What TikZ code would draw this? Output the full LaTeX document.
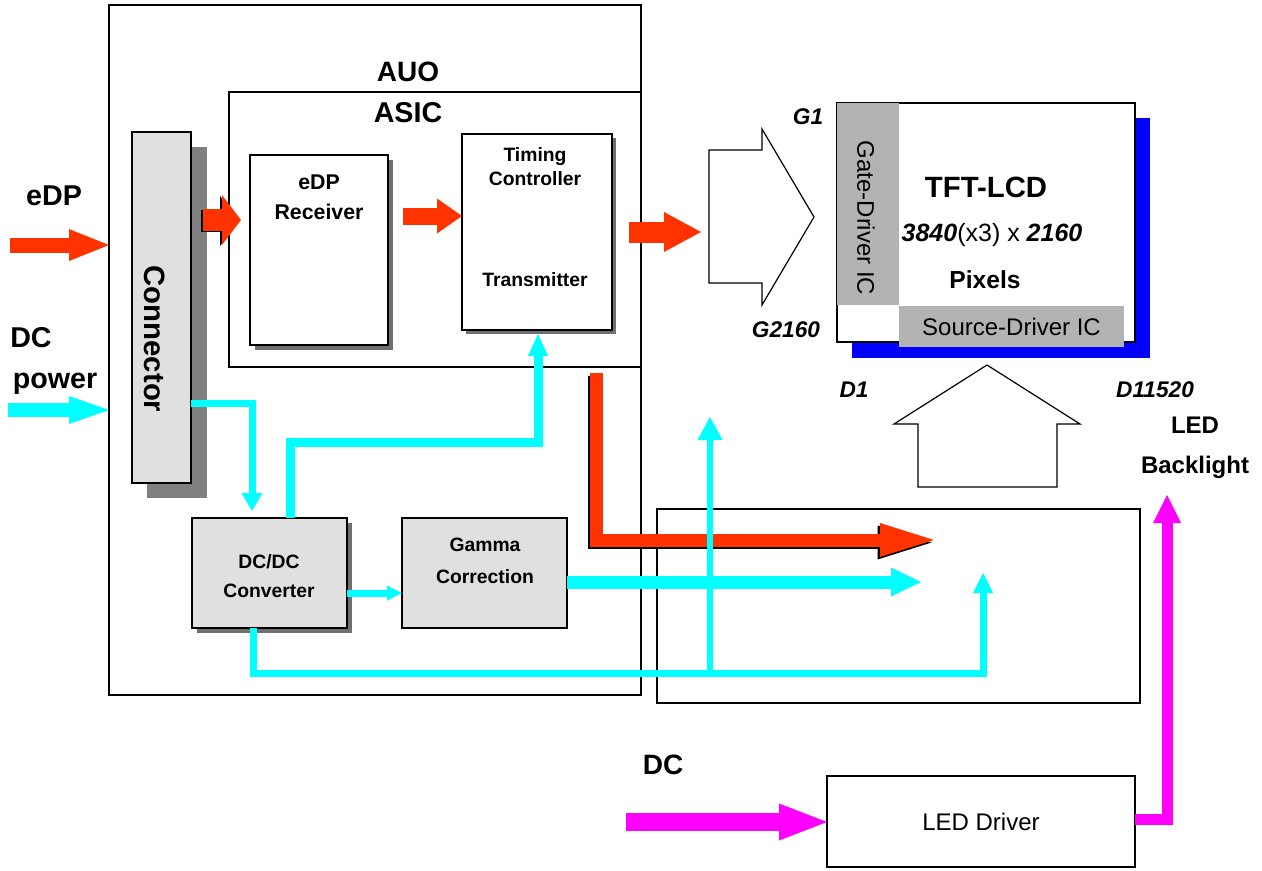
\documentclass[tikz,border=0pt]{standalone}
\usepackage{fontspec}
\setmainfont{Liberation Sans}
\usetikzlibrary{arrows.meta,fit,calc}
\definecolor{redA}{HTML}{FF3300}
\definecolor{cyanA}{HTML}{00FFFF}
\definecolor{magA}{HTML}{FF00FF}
\definecolor{blueA}{HTML}{0000FF}
\definecolor{boxgray}{HTML}{E0E0E0}
\definecolor{icgray}{HTML}{B3B3B3}
\definecolor{shadowgray}{HTML}{808080}
\definecolor{softshadow}{HTML}{707070}
\begin{document}
\begin{tikzpicture}[x=0.75pt,y=-0.75pt,
  frame/.style={draw=black, inner sep=0pt, outer sep=0pt},
  txtb/.style={inner sep=0pt, font=\fontsize{#1}{#1}\selectfont\bfseries},
  txtr/.style={inner sep=0pt, font=\fontsize{#1}{#1}\selectfont},
  txtbi/.style={inner sep=0pt, font=\fontsize{#1}{#1}\selectfont\bfseries\itshape},
  hollow/.style={draw=black, line width=0.9pt, fill=white, line join=miter},
]
\useasboundingbox (0,0) rectangle (1262,870);

% ---------- frames ----------
\node[frame, line width=1.1pt, fit={(109,5)(641,695)}] (auo) {};
\node[frame, line width=1.1pt, fit={(657,509)(1140,703)}] (board) {};
\node[frame, line width=1.8pt, fit={(229,92)(641,367)}] (asic) {};
\node[txtb=21pt] (auolbl) at (408,72) {AUO};
\node[txtb=21.5pt] (asiclbl) at (408,113) {ASIC};

% connector
\fill[shadowgray] (147,147) rectangle (207,498);
\node[frame, line width=1.4pt, fill=boxgray, fit={(132,132)(191,483)}] (conn) {};
\node[txtb=22pt, rotate=-90] (connlbl) at (155,339) {Connector};

% eDP receiver
\fill[softshadow] (255,160) rectangle (393,350);
\node[frame, line width=1.3pt, fill=white, fit={(250,155)(388,345)}] (rec) {};
\node[txtb=16pt] (reclbl1) at (319,182) {eDP};
\node[txtb=16pt] (reclbl2) at (319,212) {Receiver};

% timing controller
\fill[softshadow] (466,138) rectangle (616,334);
\node[frame, line width=1.3pt, fill=white, fit={(462,134)(612,330)}] (tx) {};
\node[txtb=14.5pt] (txlbl1) at (535,157) {Timing};
\node[txtb=14.5pt] (txlbl2) at (535,179) {Controller};
\node[txtb=14.5pt] (txlbl3) at (535,280) {Transmitter};

% DC/DC
\fill[softshadow] (197,523) rectangle (352,633);
\node[frame, line width=1.3pt, fill=boxgray, fit={(192,518)(347,628)}] (dcdc) {};
\node[txtb=14.5pt] (dclbl1) at (269,562) {DC/DC};
\node[txtb=14.5pt] (dclbl2) at (269,591) {Converter};

% Gamma
\node[frame, line width=1.3pt, fill=boxgray, fit={(402,518)(567,628)}] (gamma) {};
\node[txtb=14.5pt] (gmlbl1) at (485,545) {Gamma};
\node[txtb=14.5pt] (gmlbl2) at (485,577) {Correction};

% TFT panel
\fill[blueA] (852,118) rectangle (1150,358);
\node[frame, line width=1.8pt, fill=white, fit={(837,103)(1135,342)}] (tft) {};
\fill[icgray] (837,103) rectangle (899,305);
\node[fit={(899,306)(1124,347)}, inner sep=0pt, fill=icgray] (srcic) {};
\node[txtr=18pt, rotate=-90] (gatelbl) at (866,218) {Gate-Driver IC};
\node[txtr=18pt] (srclbl) at (srcic.center) {Source-Driver IC};
\node[txtb=22pt] (tftlbl) at (986,187) {TFT-LCD};
\node[txtr=18.75pt] (reslbl) at (992,235) {{\bfseries\itshape 3840}(x3) x {\bfseries\itshape 2160}};
\node[txtb=18.5pt] (pixlbl) at (985,280) {Pixels};
\node[txtbi=17pt] (g1) at (808,117) {G1};
\node[txtbi=17pt] (g2160) at (786,330) {G2160};
\node[txtbi=17pt] (d1) at (854,390) {D1};
\node[txtbi=17pt] (d11520) at (1155,390) {D11520};

% hollow arrows
\draw[hollow] (709,150) -- (762,150) -- (762,129) -- (814,217) -- (762,305) -- (762,283) -- (709,283) -- cycle;
\draw[hollow] (918,487) -- (918,424) -- (894,424) -- (987,365) -- (1080,424) -- (1057,424) -- (1057,487) -- cycle;

% LED backlight / driver
\node[txtb=18pt] (ledlbl1) at (1195,425) {LED};
\node[txtb=18pt] (ledlbl2) at (1195,467) {Backlight};
\node[frame, line width=1.2pt, fit={(827,776)(1135,867)}] (led) {};
\node[txtr=18pt] (ledlbl) at (led.center) {LED Driver};

% side labels
\node[txtb=21.5pt] (edplbl) at (54,196) {eDP};
\node[txtb=21.5pt] (dclbl) at (31,338) {DC};
\node[txtb=21.5pt] (pwrlbl) at (55,384) {power};
\node[txtb=21pt] (dc2lbl) at (663,765) {DC};

% ---------- red arrows ----------
\coordinate (edpsrc) at (10,245);
\draw[redA, line width=11.25pt, -{Triangle[length=30pt,width=24pt,line width=0pt]}] (edpsrc) -- (edpsrc -| auo.west);

\coordinate (ca1) at (203,220);
\coordinate (ca2) at (241,220);
\draw[black, line width=16.5pt, -{Triangle[length=14.25pt,width=37.5pt,line width=0pt]}] ([shift={(-2,1)}]ca1) -- ([shift={(-2,1)}]ca2);
\draw[redA, line width=16.5pt, -{Triangle[length=14.25pt,width=37.5pt,line width=0pt]}] (ca1) -- (ca2);

\coordinate (rt1) at (403,216);
\draw[redA, line width=12.75pt, -{Triangle[length=18.75pt,width=26.25pt,line width=0pt]}] (rt1) -- (rt1 -| tx.west);

\coordinate (tg1) at (629,232);
\coordinate (tg2) at (701,232);
\draw[redA, line width=15.75pt, -{Triangle[length=27.75pt,width=30pt,line width=0pt]}] (tg1) -- (tg2);

\coordinate (la) at (596.5,373);
\coordinate (lb) at (596.5,540);
\coordinate (lc) at (934,540);
\draw[black, line width=9.75pt, -{Triangle[length=40.5pt,width=25.5pt,line width=0pt]}] ([shift={(-2.5,2.5)}]la) -- ([shift={(-2.5,2.5)}]lb) -- ([shift={(-2.5,2.5)}]lc);
\draw[redA, line width=9.75pt, -{Triangle[length=40.5pt,width=25.5pt,line width=0pt]}] (la) -- (lb) -- (lc);

% ---------- cyan arrows ----------
\coordinate (dcsrc) at (8,410);
\draw[cyanA, line width=10.5pt, -{Triangle[length=30pt,width=21pt,line width=0pt]}] (dcsrc) -- (dcsrc -| auo.west);

\coordinate (c1) at (252,403);
\coordinate (c1e) at (252,511);
\draw[cyanA, line width=5.25pt, -{Triangle[length=13.5pt,width=15.75pt,line width=0pt]}] (conn.east |- c1) -- (c1) -- (c1e);

\coordinate (c2a) at (290,442);
\coordinate (c2b) at (538,442);
\coordinate (c2e) at (538,334);
\draw[cyanA, line width=6.75pt, -{Triangle[length=16.5pt,width=15pt,line width=0pt]}] (dcdc.north -| c2a) -- (c2a) -- (c2b) -- (c2e);

\coordinate (c3) at (347,593);
\draw[cyanA, line width=5.25pt, -{Triangle[length=11.25pt,width=11.25pt,line width=0pt]}] (c3) -- (c3 -| gamma.west);

\coordinate (c4a) at (567,582);
\coordinate (c4e) at (921,582);
\draw[cyanA, line width=9.75pt, -{Triangle[length=22.5pt,width=21.75pt,line width=0pt]}] (c4a) -- (c4e);

\coordinate (c5a) at (253,673);
\coordinate (c5b) at (983,673);
\coordinate (c5e) at (983,573);
\draw[cyanA, line width=5.25pt, -{Triangle[length=15pt,width=15pt,line width=0pt]}] (dcdc.south -| c5a) -- (c5a) -- (c5b) -- (c5e);

\coordinate (c6a) at (710,673);
\coordinate (c6e) at (710,417);
\draw[cyanA, line width=4.5pt, -{Triangle[length=17.25pt,width=18.75pt,line width=0pt]}] (c6a) -- (c6e);

% ---------- magenta arrows ----------
\coordinate (m1) at (626,822);
\draw[magA, line width=13.5pt, -{Triangle[length=36pt,width=27.75pt,line width=0pt]}] (m1) -- (m1 -| led.west);

\coordinate (m2a) at (1167,819);
\coordinate (m2e) at (1167,495);
\draw[magA, line width=8.25pt, -{Triangle[length=21pt,width=21pt,line width=0pt]}] (led.east |- m2a) -- (m2a) -- (m2e);
\end{tikzpicture}
\end{document}
